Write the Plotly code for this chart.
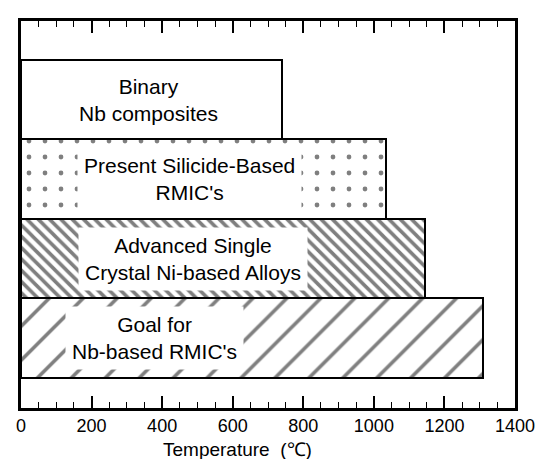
import plotly.graph_objects as go

# Data (bottom to top)
categories = ["Goal for<br>Nb-based RMIC's",
              "Advanced Single<br>Crystal Ni-based Alloys",
              "Present Silicide-Based<br>RMIC's",
              "Binary<br>Nb composites"]
temperatures = [1310, 1145, 1035, 740]
label_x = [378, 488, 477, 361]

positions = list(range(len(categories)))

FONT = "Liberation Sans, Arial, sans-serif"

fig = go.Figure()
fig.add_trace(go.Bar(
    x=temperatures,
    y=positions,
    orientation="h",
    width=1,
    marker=dict(
        color="white",
        line=dict(color="black", width=2),
        pattern=dict(
            shape=["/", "\\", ".", ""],
            size=[24, 8, 16, 10],
            solidity=[0.15, 0.45, 0.07, 0.1],
            fgcolor="black",
            bgcolor="white",
        ),
    ),
    hoverinfo="skip",
    showlegend=False,
))

pads = [6, 6, 6, 2]
for i, (txt, lx) in enumerate(zip(categories, label_x)):
    fig.add_annotation(
        x=lx, y=positions[i], text=txt, showarrow=False,
        font=dict(family=FONT, size=21, color="black"),
        align="center", bgcolor="white", borderpad=pads[i],
        xanchor="center", yanchor="middle",
    )

fig.add_annotation(
    xref="paper", yref="paper", x=0.4376, y=-0.108,
    text="Temperature  (\u2103)", showarrow=False,
    font=dict(family=FONT, size=19, color="black"),
    xanchor="center", yanchor="middle",
)

fig.update_layout(
    width=548, height=459,
    margin=dict(l=13, r=41, t=13, b=59),
    paper_bgcolor="white", plot_bgcolor="white",
    font=dict(family=FONT, size=18, color="black"),
    bargap=0,
)
fig.update_xaxes(
    range=[0, 1400], dtick=200, tick0=0, automargin=False,
    ticks="inside", ticklen=12, tickwidth=1.5, tickcolor="black",
    minor=dict(dtick=50, ticks="inside", ticklen=6, tickwidth=1.2, tickcolor="black"),
    showline=True, linewidth=2.5, linecolor="black", mirror="ticks",
    showgrid=False, zeroline=False,
    tickfont=dict(family=FONT, size=18),
)
fig.update_yaxes(
    range=[-0.88, 3.99], showticklabels=False, ticks="", automargin=False,
    showline=True, linewidth=2.5, linecolor="black", mirror=True,
    showgrid=False, zeroline=False,
)

fig.write_html("out.html")
